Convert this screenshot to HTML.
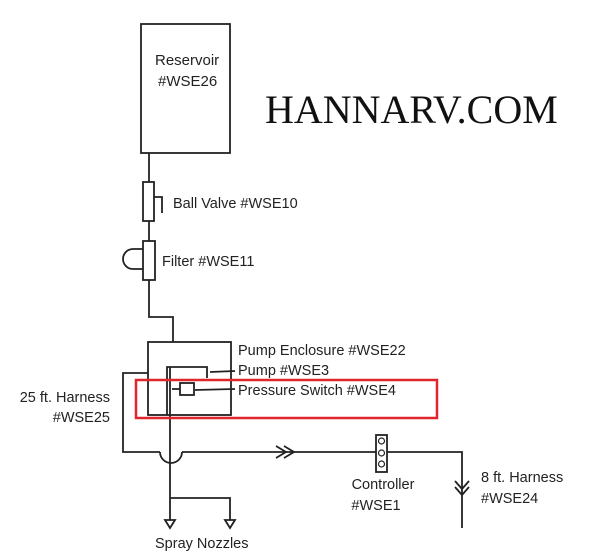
<!DOCTYPE html>
<html><head><meta charset="utf-8"><style>
html,body{margin:0;padding:0;background:#fff;}
svg{display:block;}
text{font-family:"Liberation Sans",sans-serif;font-size:14.5px;fill:#222;}
</style></head><body>
<svg width="600" height="558" viewBox="0 0 600 558" xmlns="http://www.w3.org/2000/svg">
<g fill="none" stroke="#222" stroke-width="1.8">
<rect x="141" y="24" width="89" height="129"/>
<line x1="149" y1="153" x2="149" y2="182"/>
<rect x="143" y="182" width="11" height="39"/>
<polyline points="154,197 162,197 162,213"/>
<line x1="149" y1="221" x2="149" y2="241"/>
<rect x="143" y="241" width="12" height="39"/>
<path d="M143,249 L133,249 A10,10 0 0 0 133,269 L143,269"/>
<polyline points="149,280 149,317 173,317 173,342"/>
<rect x="148" y="342" width="83" height="73"/>
<polyline points="167,415 167,367 207,367 207,378"/>
<line x1="210" y1="372" x2="235" y2="371"/>
<rect x="180" y="383" width="14" height="12"/>
<line x1="172" y1="389" x2="180" y2="389"/>
<line x1="195" y1="390" x2="235" y2="389"/>
<line x1="170" y1="367" x2="170" y2="498"/>
<polyline points="170,498 170,520"/>
<polyline points="170,498 230,498 230,520"/>
<polygon points="165,520 175,520 170,528"/>
<polygon points="225,520 235,520 230,528"/>
<polyline points="148,373 123,373 123,452 160,452"/>
<path d="M160,452 A11,11 0 0 0 182,452"/>
<polyline points="182,452 376,452"/>
<polyline points="276,446 286,452 276,458"/>
<polyline points="284,446 294,452 284,458"/>
<rect x="376" y="435" width="11" height="37"/>
<circle cx="381.5" cy="441" r="3" stroke-width="1.2"/>
<circle cx="381.5" cy="453" r="3" stroke-width="1.2"/>
<circle cx="381.5" cy="464" r="3" stroke-width="1.2"/>
<polyline points="387,452 462,452 462,528"/>
<polyline points="455,481 462,489 469,481"/>
<polyline points="455,487 462,495 469,487"/>
</g>
<rect x="136" y="380" width="301" height="38" fill="none" stroke="#e0262c" stroke-width="2.5"/>
<text x="155" y="65" style="font-size:15px">Reservoir</text>
<text x="158" y="86" style="font-size:15px">#WSE26</text>
<text x="173" y="208">Ball Valve #WSE10</text>
<text x="162" y="266">Filter #WSE11</text>
<text x="238" y="355">Pump Enclosure #WSE22</text>
<text x="238" y="375">Pump #WSE3</text>
<text x="238" y="395">Pressure Switch #WSE4</text>
<text x="110" y="402" text-anchor="end">25 ft. Harness</text>
<text x="110" y="422" text-anchor="end">#WSE25</text>
<text x="383" y="489" text-anchor="middle">Controller</text>
<text x="376" y="510" text-anchor="middle">#WSE1</text>
<text x="481" y="482">8 ft. Harness</text>
<text x="481" y="503">#WSE24</text>
<text x="155" y="548">Spray Nozzles</text>
<text x="265" y="123" style="font-family:'Liberation Serif',serif;font-size:40px;fill:#111;">HANNARV.COM</text>
</svg>
</body></html>
